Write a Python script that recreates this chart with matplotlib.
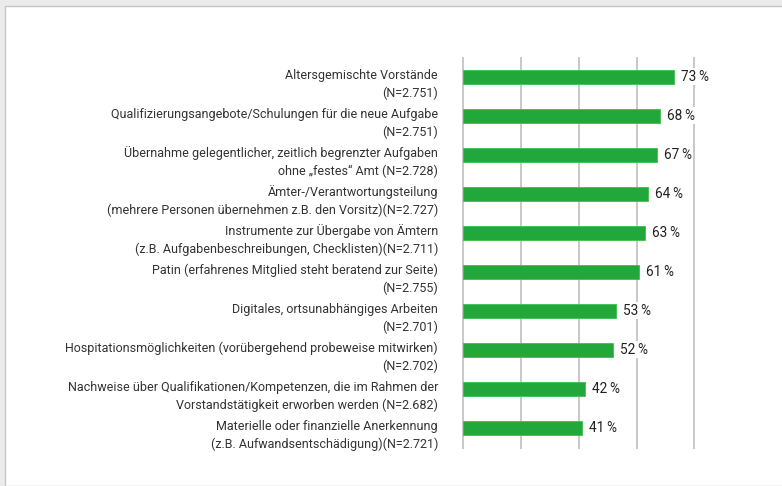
import matplotlib.pyplot as plt
from matplotlib.patches import Rectangle

# Daten
kategorien = [
    "Altersgemischte Vorstände\n(N=2.751)",
    "Qualifizierungsangebote/Schulungen für die neue Aufgabe\n(N=2.751)",
    "Übernahme gelegentlicher, zeitlich begrenzter Aufgaben\nohne „festes“ Amt (N=2.728)",
    "Ämter-/Verantwortungsteilung\n(mehrere Personen übernehmen z.B. den Vorsitz)(N=2.727)",
    "Instrumente zur Übergabe von Ämtern\n(z.B. Aufgabenbeschreibungen, Checklisten)(N=2.711)",
    "Patin (erfahrenes Mitglied steht beratend zur Seite)\n(N=2.755)",
    "Digitales, ortsunabhängiges Arbeiten\n(N=2.701)",
    "Hospitationsmöglichkeiten (vorübergehend probeweise mitwirken)\n(N=2.702)",
    "Nachweise über Qualifikationen/Kompetenzen, die im Rahmen der\nVorstandstätigkeit erworben werden (N=2.682)",
    "Materielle oder finanzielle Anerkennung\n(z.B. Aufwandsentschädigung)(N=2.721)",
]
werte = [73, 68, 67, 64, 63, 61, 53, 52, 42, 41]
gitter = [0, 20, 40, 60, 80]

plt.rcParams['font.family'] = ['Roboto', 'DejaVu Sans']
textfarbe = "#333333"
gruen = "#22a83a"

fig = plt.figure(figsize=(7.82, 4.86), dpi=100)
fig.patch.set_facecolor("#ebebeb")
# weisse Seite
fig.patches.append(Rectangle((5 / 782, 0), 1, 1 - 6 / 486, transform=fig.transFigure,
                             facecolor="white", edgecolor="#c6c6c6", linewidth=1, zorder=-10))

ax = fig.add_axes([463.3 / 782, 38 / 486, 236.8 / 782, 390 / 486])
ax.set_facecolor("none")

y = list(range(len(werte)))
ax.barh(y, werte, height=0.36, color=gruen, edgecolor="#3cbf50", linewidth=0.6, zorder=2)

for g in gitter:
    ax.axvline(g, color="#c8c8c8", linewidth=1.4, zorder=1, clip_on=False)

for i, (k, w) in enumerate(zip(kategorien, werte)):
    ax.text(-0.107, i + 0.19, k, transform=ax.get_yaxis_transform(), ha="right", va="center",
            fontsize=9, color=textfarbe, linespacing=1.45)
    ax.text(w + 2.4, i, f"{w}\u2009%", ha="left", va="center", fontsize=9.8, color="#222222",
            zorder=3, bbox=dict(facecolor="white", edgecolor="none", pad=1))

ax.set_xlim(0, 82)
ax.set_ylim(9.52, -0.48)
ax.set_xticks([])
ax.set_yticks([])
for s in ax.spines.values():
    s.set_visible(False)

plt.savefig("out.png", dpi=100, facecolor=fig.get_facecolor())
